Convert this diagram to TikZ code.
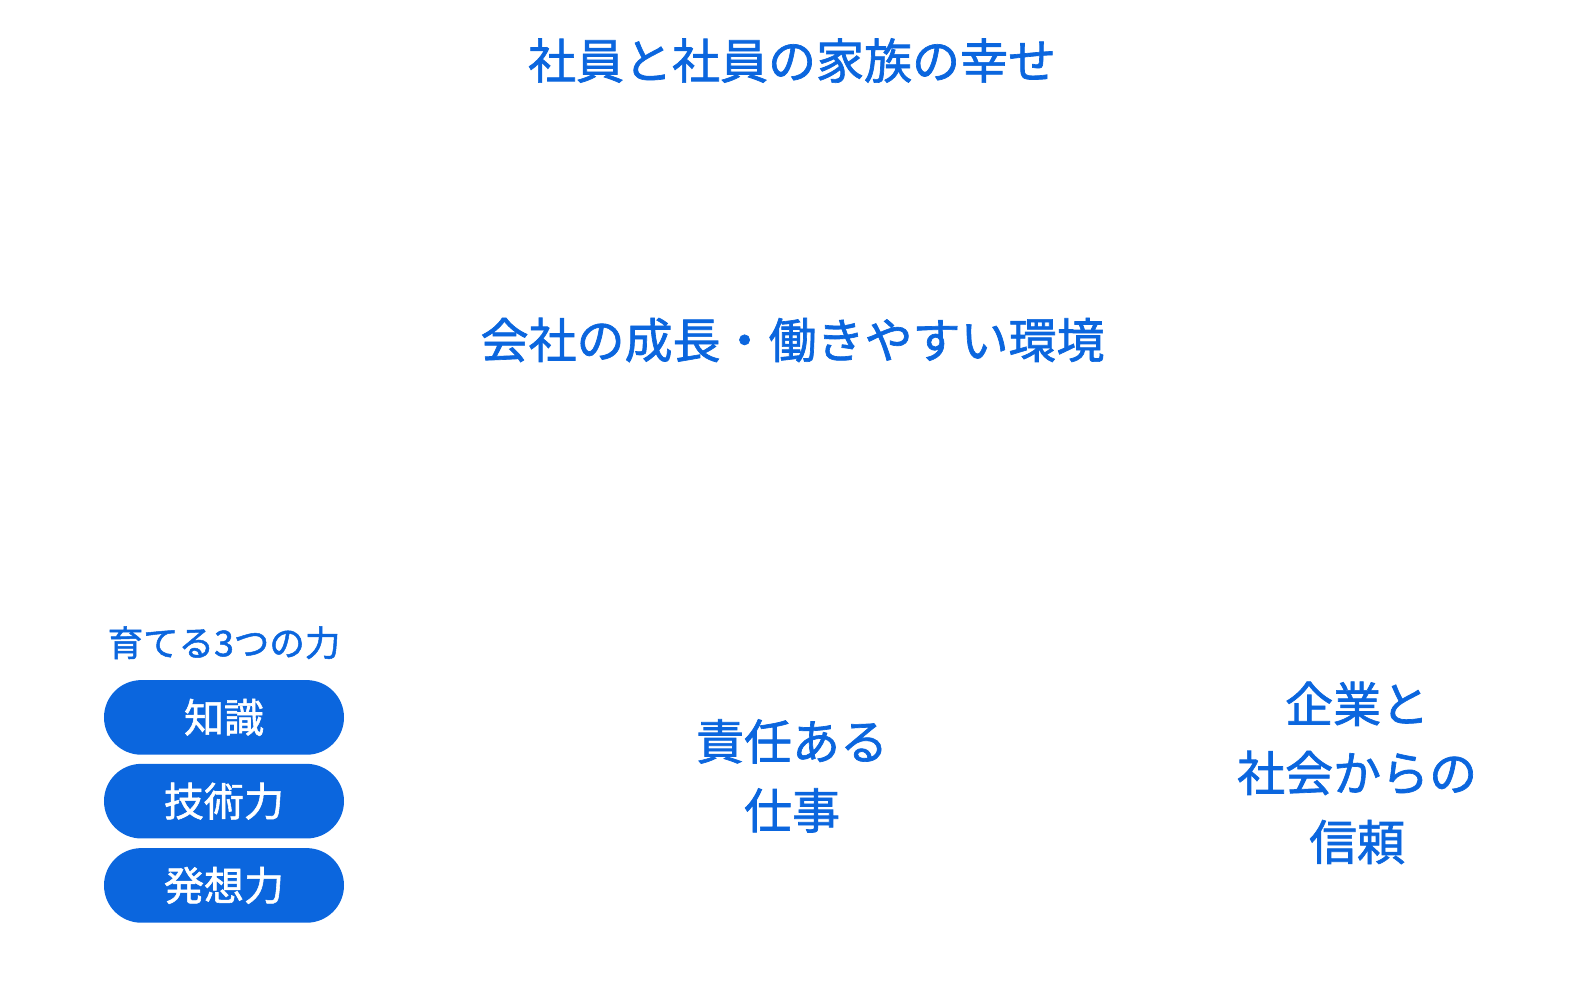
\documentclass[tikz,border=0pt]{standalone}
\usepackage{fontspec}
\newfontfamily\cjk[FakeBold=1.4]{Noto Sans CJK JP}
\definecolor{brand}{HTML}{0B66DE}
\begin{document}
\begin{tikzpicture}[x=1.009pt,y=-1.009pt,
  bigtxt/.style={text=brand,font=\cjk\fontsize{48}{69}\selectfont,align=center,inner sep=0pt},
  midtxt/.style={text=brand,font=\cjk\fontsize{48}{69}\selectfont,align=center,inner sep=0pt},
  smalltxt/.style={text=brand,font=\cjk\fontsize{35.5}{40}\selectfont,inner sep=0pt},
  pill/.style={fill=brand,text=white,rounded corners=37.3pt,minimum width=240pt,minimum height=74.6pt,inner sep=0pt,font=\cjk\fontsize{40}{44}\selectfont}]
\useasboundingbox (0pt,0pt) rectangle (1582pt,-998pt);
\node[bigtxt] (top) at (785,60) {社員と社員の家族の幸せ};
\node[midtxt] (mid) at (785.5,337) {会社の成長・働きやすい環境};
\node[midtxt] (work) at (785,769) {責任ある\\仕事};
\node[midtxt] (trust) at (1345,766) {企業と\\社会からの\\信頼};
\node[smalltxt] (label) at (222,637) {育てる3つの力};
\node[pill] (p1) at (222,711) {知識};
\node[pill] (p2) at (222,794) {技術力};
\node[pill] (p3) at (222,877.5) {発想力};
\end{tikzpicture}
\end{document}
